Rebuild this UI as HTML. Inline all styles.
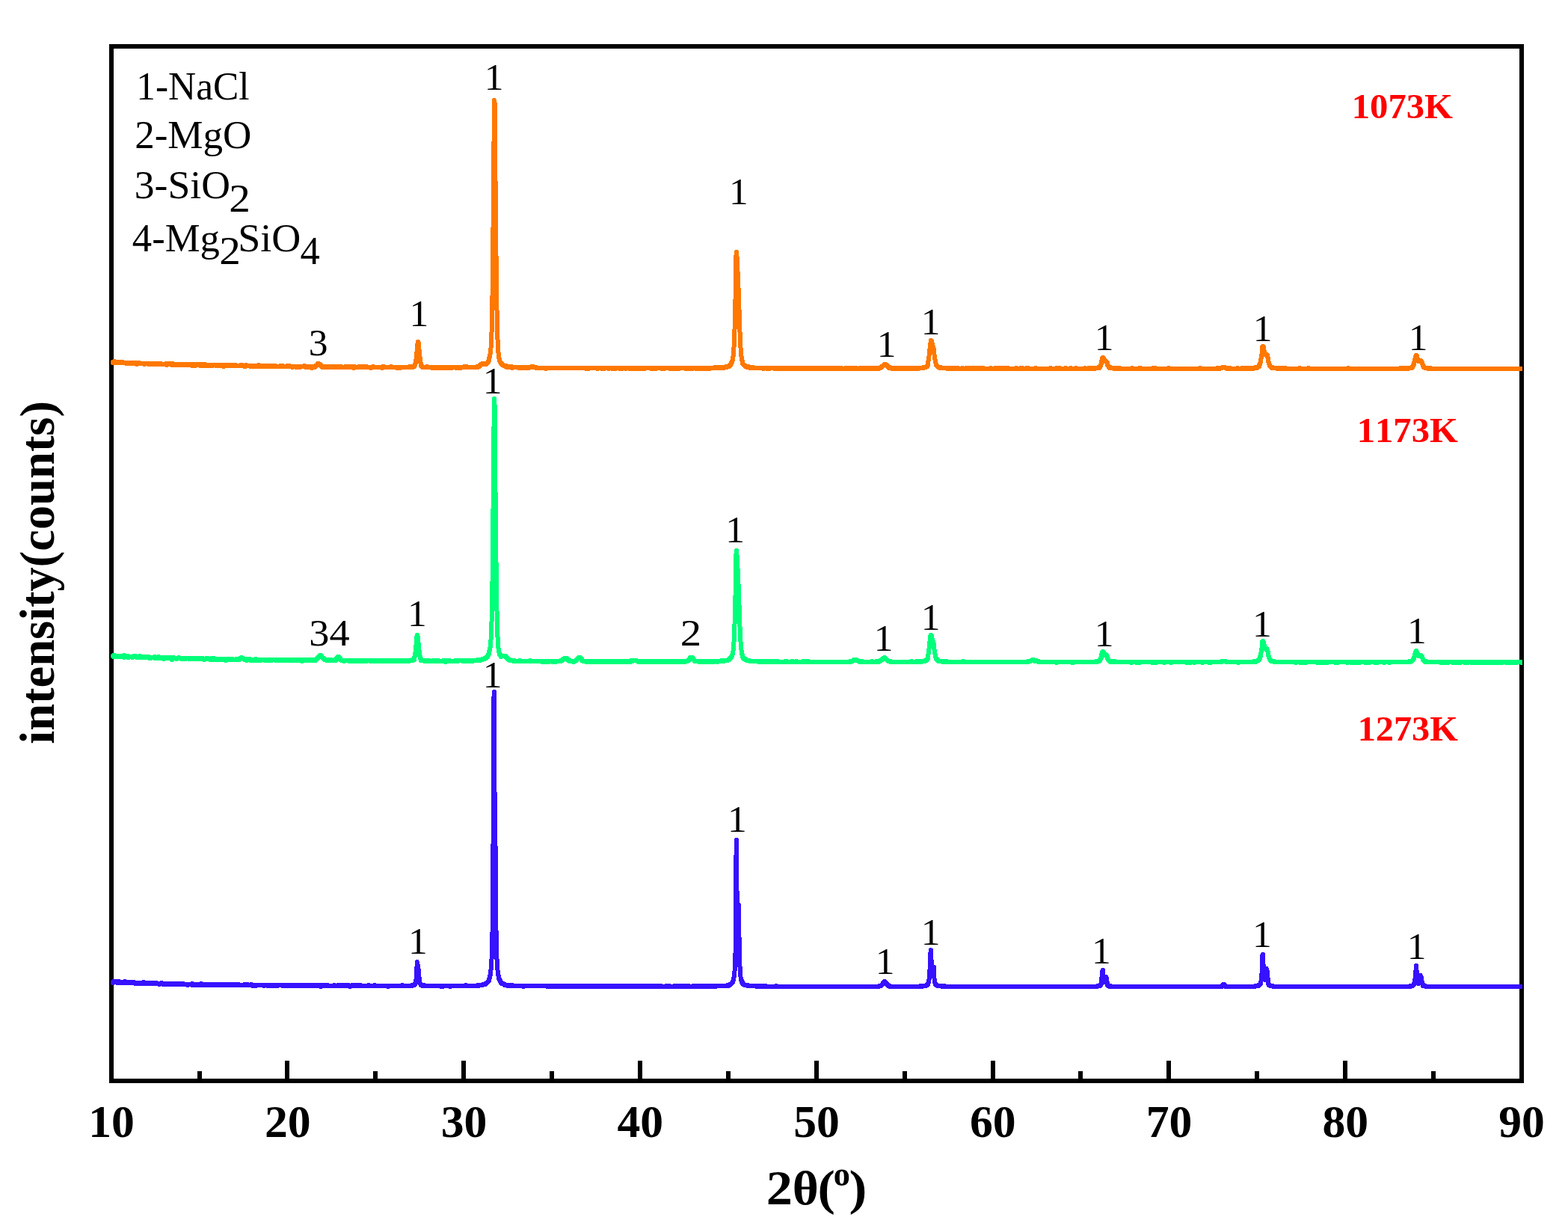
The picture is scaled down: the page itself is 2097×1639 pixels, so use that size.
<!DOCTYPE html>
<html lang="en"><head><meta charset="utf-8"><title>XRD patterns at 1073K, 1173K and 1273K</title>
<style>html,body{margin:0;padding:0;background:#fff}svg{display:block}text{font-family:"Liberation Serif",serif;font-kerning:none}</style></head><body>
<svg xmlns="http://www.w3.org/2000/svg" width="2097" height="1639" viewBox="0 0 2097 1639">
<defs><clipPath id="plot"><rect x="148" y="62" width="1888" height="1383"/></clipPath></defs>
<rect x="0" y="0" width="2097" height="1639" fill="#fff"/>
<g shape-rendering="crispEdges">
<rect x="149" y="62" width="1886" height="1383" fill="none" stroke="#000" stroke-width="6"/>
<rect x="381" y="1418" width="6" height="27" fill="#000"/><rect x="617" y="1418" width="6" height="27" fill="#000"/><rect x="853" y="1418" width="6" height="27" fill="#000"/><rect x="1089" y="1418" width="6" height="27" fill="#000"/><rect x="1325" y="1418" width="6" height="27" fill="#000"/><rect x="1560" y="1418" width="6" height="27" fill="#000"/><rect x="1796" y="1418" width="6" height="27" fill="#000"/><rect x="264" y="1432" width="6" height="13" fill="#000"/><rect x="499" y="1432" width="6" height="13" fill="#000"/><rect x="735" y="1432" width="6" height="13" fill="#000"/><rect x="971" y="1432" width="6" height="13" fill="#000"/><rect x="1207" y="1432" width="6" height="13" fill="#000"/><rect x="1442" y="1432" width="6" height="13" fill="#000"/><rect x="1678" y="1432" width="6" height="13" fill="#000"/><rect x="1914" y="1432" width="6" height="13" fill="#000"/>
<g clip-path="url(#plot)">
<path fill="none" stroke="#ff7800" stroke-width="6" stroke-linejoin="round" stroke-linecap="round" d="M151 485v-1h1l1 1v-2l1 2v-1l1 1h1v-1l1 1l1 -1v1l1 -1v1h1v-1l1 1h2l1 -1v1h4l1 1l1 -1h1v1l1 -1h1v1l1 -1v1v-1h2l1 1h2v-1l1 1l1 -1v1h1l1 1v-2h1l1 1h1v-1l1 1h6v1l1 -1h4l1 1v-1h1l1 1v-1h2l1 1v-1h2l1 1v-1h1v1h1v-1l1 1h1v-1l1 1v-1h1l1 1l1 -1v1v-1l1 1h6v-1l1 1v1v-1h2l1 -1v1l1 -1v1h3v1l1 -2v1h1v1v-1h1l1 1v-1h3v1l1 -1h2v1l1 -1v1h1l1 -1v1h2v-1l1 1v-1l1 1v-1h2v1l1 -1l1 1v-1h1v1h1v-1l1 1h2l1 -1v2v-2l1 1v-1l1 1h1l1 1v-1l1 -1l1 1v-1l1 1h1v-1l1 1h1l1 1v-2l1 1l1 -1v2l1 -1l1 1v-1h1l1 -1v1h1l1 1v-1h2l1 1v-1l1 1v-1h1v1l1 -1v1l1 -1h1v1l1 -1h3l1 1v-1h1v1h1v-1l1 1l1 -1h1l1 1l1 -1v1l1 -1v1h1v-1l1 2v-1h1l1 -1l1 1v-1l1 1v-1l1 1l1 -1v1h2v-1l1 1h1v-1h2v1h4v-1l1 1h5l1 -1v1h1l1 -1v1h3v1l1 -1v1l1 -1v-1l1 1h5v1l1 -1h1v1l1 -1v1l1 -1v1v-1h1l1 1v-1h2l1 1v-1l1 1l1 -1v-1l1 1l1 1v-1h1v1l1 -1l1 1v-1h1v1l1 -1l1 1h1v-1l1 1v-1v1h2l1 -1l1 1v-1l1 1v-1l1 1v-1l1 1v-1l1 1v-1l1 1v-1h1v1l1 -1l1 1v-1l1 1h6v-1h1v1h1l1 -1v1h5l1 -1v1h1v-1l1 1l1 -1v1h4v1l1 -1h4v1l1 -1v1l1 -1l1 1v-1h1v1h1v-1h6v-1l1 1l1 1l1 -1h1v1l1 -1l1 1v-1l1 1v-1h1l1 1v-1h1v2l1 -2h3v1l1 -1v-1h1l1 -1l1 -1v-1h1v1h1v1l1 -1v1h1v1h1v1h1v1l1 -1v1l1 -1v1l1 -1v1l1 -1h1l1 1v-1h1v1h1l1 -1h1v1l1 -1v1l1 -1v1l1 -1v1h3v-1h1v1h1v-1l1 1l1 -1v1l1 -1l1 1l1 -1v1l1 -1v1v-1h1l1 1h4l1 -1v1l1 -1v1v-1l1 1h1l1 -1v1l1 -1v1h1l1 -1v1h3v-1l1 2v-1l1 -1v1h6v-1v1h3l1 -1v1h1v-1l1 1v-1l1 1h3v-1l1 1h5v1v-1h2l1 -1v1h11l1 1v-1l1 -1v1h1v-1v1h10v-1l1 1h7v1l1 -1v1l1 -1h1l1 1v-1h13v-1l1 1l1 -1l1 1h1v-1h2v-1l1 -1v-1l1 -2v-3l1 -3v-5l1 -7v-6l1 -4l1 2v5l1 6v5l1 4v5l1 2v3l1 1h1v1h6v-1l1 1h6v1l1 -1v1v-1l1 1l1 -1l1 1l1 -1h1l1 1v-1l1 1l1 -1h1v1l1 -1v1h1v-1h2v1h1l1 -1v1l1 -1v1h1v-1h1v1h1v-1h1l1 1l1 -1l1 1h1l1 -1v1v-1h6v1l1 -1h1l1 1v-1h3v1l1 -1h3l1 -1h2v1h1v-1l1 1h12l1 -1v1l1 -1v1l1 -1h1v-1h1l1 -1v-1h2v-1h2l1 1h2v-1h1l1 -1l1 -1v-1l1 -1v-3l1 -2v-2l1 -3v-4l1 -6v-10l1 -16v-23l1 -35v-46l1 -56v-60l1 -54v-28l1 6v75l1 52v51l1 45v37l1 28v19l1 14v8l1 5v4l1 2v2l1 2l1 1v1h1v1l1 1v-1l1 1l1 1h2v1h1v-1l1 1v1l1 -1v1l1 -1v1h3l1 -1v1l1 1v-1h9v1h1v-1v1l1 -1v1h1l1 -1h1v1h1v-1h2v1h1v-1l1 1v-1l1 1v-1h1l1 1v-1h4v-1h1v1l1 -1l1 1h3v1h13v1l1 -1h53v1l1 -1h2v1l1 -1h10l1 1v-1h5l1 1v-1h1l1 1v-1h1v1l1 -1h5v1l1 -1h4v1l1 -1v1l1 -1h2v1l1 -1h4l1 1v-1l1 1v-1h2v1l1 -1h3l1 1l1 -1h3l1 1l1 -1v1l1 -1h1v1l1 -1l1 1v-1l1 1v-1h4v1l1 -1l1 1v-1h1v1l1 -1h1v1l1 -1v1l1 -1l1 1v-1h2v1l1 -1h7l1 1v-1h1v1l1 -1h3v1h1v-1h8v1l1 -1l1 1v-1h1v1l1 -1h6l1 1v-1h1v1l1 -1l1 1v-1l1 1v-1h2v1v-1h2v1l1 -1l1 1v-1h2v1l1 -1h8v1l1 -1v1l1 -1h1l1 1v-1h3l1 1v-1h1v1l1 -1h4v1l1 -1l1 1v-1h1l1 1v-1h1l1 1l1 -1h2v1l1 -1v1l1 -1l1 1v-1l1 1l1 -1h1l1 1v-1h1l1 1v-1h7v-1l1 1h1l1 -1v1h2v-1l1 1h1v-1l1 1l1 -1v1h1v-1l1 1h1v-1h2l1 -1v1h1v-1h3l1 -1v-1h1v-1l1 -1v-1l1 -1v-1l1 -2v-3l1 -3v-6l1 -9v-12l1 -16v-20l1 -24v-42l1 -9v1l1 9v11l1 10v11l1 12v15l1 16v15l1 13v11l1 8v6l1 3v3l1 2v3l1 1l1 1l1 1h1v1h2v1l1 -1v1h1v-1v1h1l1 1l1 -1v1l1 -1h2v1h13l1 1v-1h5v1l1 -1l1 1v-1l1 1l1 -1h5l1 1v-1h1v1l1 -1v1l1 -1l1 1l1 -1h2v1l1 -1h1l1 1v-1l1 1v-1h2v1h1v-1h1v1l1 -1h1l1 1h1v-1h1l1 1l1 -1v1l1 -1v1v-1h1l1 1h1v-1h1v1l1 -1h1v1h1v-1h1v1l1 -1v1h1l1 -1v1l1 -1l1 1v-1h1v1l1 -1v1l1 -1h2l1 1v-1h1v1l1 -1h1v1h1l1 -1l1 1h2v-1h1l1 1v-1h1l1 1v-1h1l1 1v-1l1 1h1l1 -1h1v1l1 -1v1h1v-1l1 1h2l1 -1h2l1 1v-1l1 1l1 -1h1v1h1v-1l1 1l1 -1v1h1l1 -1v1l1 -1v1l1 -1v1h1l1 -1v1h1v-1h1l1 1h2v-1l1 1h1l1 -1v1h5l1 -1v1l1 -1v1h1v-1v1l1 -1v1h1l1 -1v1h1l1 -1v1h3l1 -1v1l1 -1v1h1v-1l1 1v-1l1 1h3l1 -1v1l1 -1h1v1l1 -1v1h1v-1l1 1l1 -1v1h3l1 -1l1 1l1 -1l1 1h1l1 -1h1v1h1l1 -1l1 1v-1l1 1v-1l1 1v-1h1v1l1 -1h1l1 1v-1h2l1 -1h1v-1h1l1 -1l1 -1l1 -1h1l1 1h1v1h1v1h1v1h1v1l1 -1v1h2l1 1l1 -1h1l1 1h1v-1h1v1h1v-1h1v1h1v-1l1 1v-1h1v1l1 -1v1h2v-1l1 1h1l1 -1h1v1h3l1 -1v1l1 -1l1 1l1 -1v1l1 -1v1h1l1 -1h1v1l1 -1h2v1v-1h2l1 1v-1l1 1v-1h7v-1h3l1 -1h1v-1l1 -1v-4l1 -3v-3l1 -4v-5l1 -5v-4l1 -4v-1l1 1v2l1 2v2l1 2v1l1 2v5l1 4v3l1 3v2l1 3v1l1 1l1 1l1 1h1l1 1v-1v1h1v-1l1 1h8v1h1l1 -1v1l1 -1h1l1 1h1l1 -1v1l1 -1l1 1h1v-1h1v1h1v-1h1v1h1v-1l1 1h4l1 -1v1h4l1 -1v1h1l1 -1v1h1v-1l1 1h1l1 -1v1h4v-1l1 1l1 -1v1h3v-1v1h2v-1l1 1l1 -1l1 1v-1l1 1h1l1 -1v1h10v-1l1 1h5v-1l1 1l1 -1v1h1l1 -1v1l1 -1v1h3v-1l1 1h3v-1h1v1l1 -1v1l1 -1v1h2v-1v1h10l1 -1v1h5l1 -1v1h2v-1l1 1h5v-1l1 1l1 -1v1h10v-1l1 1h19v-1l1 1h7v-1l1 1h2l1 -1v1h8v-1l1 1h5l1 -1v1h7v-1v1h11l1 -1l1 1h3l1 -1v1h1v-1l1 1l1 -1h1l1 1l1 -1l1 1l1 -1v1v-1h4l1 -1v1h1v-1h1v-1l1 -1v-1l1 -2v-3l1 -2v-2l1 -1l1 1v1l1 1l1 1v1h1l1 1l1 1v3l1 1l1 1v1h1v1l1 -1v1h4l1 1h1v-1h1v1h2l1 -1v1h2v-1v1h16l1 -1v1h9l1 -1v1l1 -1v1h17v-1l1 1h1l1 -1v1h17l1 -1v1h42v-1v1h22l1 -1v1h3v-1h3l1 -1h3l1 1h1l1 1v-1l1 1h1v-1l1 1h1v-1l1 1h9v-1l1 1h4l1 -1v1l1 -1v1h2l1 -1v1h1l1 -1l1 1l1 -1h1v1h2v-1h1l1 1v-1h1v1h1v-1h3v-1l1 1v-1l1 1v-1h1l1 -1h1v-2l1 -1v-1l1 -2v-3l1 -3v-3l1 -4v-7l1 -1l1 1v3l1 3v2l1 1v1h2l1 1v2l1 2v4l1 2v1l1 2v1l1 1l1 1h1v1l1 -1l1 1h4l1 1v-1h2v1l1 -1v1h1v-1v1h1v-1l1 1h2v-1l1 1v-1l1 1l1 -1v1h19v-1l1 1h10l1 -1v1h52l1 -1v1h70v-1l1 1h1l1 -1l1 1h1l1 -1v1h2v-1l1 1v-1l1 1v-1h5v-1h1v-1l1 -1v-1l1 -1v-2l1 -2v-2l1 -2v-2l1 -1v-1l1 1v2l1 2v1l1 1v1h2v-1h1l1 1v1l1 1v1l1 2v1l1 1v1h1l1 1h4v1h1v-1v1h1l1 -1l1 1h121"/>
<path fill="none" stroke="#00ff7a" stroke-width="6" stroke-linejoin="round" stroke-linecap="round" d="M151 877l1 -1v2l1 -2v1h3v1l1 -1v1l1 -1l1 1v-1h2v1l1 -1h2l1 1v-1l1 2v-3v2h2v-1l1 1h1l1 -1v2h1v-1h4l1 1v-1h1l1 -1v1h2v-1l1 1l1 1l1 -1v1l1 -1h1v1l1 -2v1l1 1v-1h1l1 1v-1h1v1h1v-1l1 1h2v-1l1 1h1l1 -1v1h1v-1v1h1v1h1v-1h5l1 1v-2v1h2v1h1l1 -1v1l1 -2v1h1l1 1v-1l1 1v-1v1h1v-1h2l1 2v-1h1v-1l1 1h1l1 -1v1h2l1 -1l1 1l1 -1v1h2v2l1 -2v1l1 -2v1h3l1 1v-1h2l1 -1v1h3l1 1v-1h1v1l1 -1h1l1 1l1 -1v1l1 -1h4v1h1v-1h1v1h1v-1l1 1v-1v1h3l1 -1h1l1 1v-1l1 1v-1h1v1h1l1 -1v1h3l1 -1v1h2v1v-1h2l1 -1v1h1l1 -1l1 1h2v1l1 -1l1 1v-2h1v1h2v-1l1 1v1h1v-1l1 1v-1h3v1l1 -1h3v1l1 -1v1l1 -1v1l1 -1h1l1 1v-1h1v2l1 -2l1 1h1l1 -1v1l1 -1v1l1 -1v1l1 -1v1h2v-1l1 1h3l1 -1v1h2v-1h2v1l1 -1v-1h2v-1v1h2l1 1h1v1h1l1 -1v1l1 1v-1h1l1 -1v1h1l1 -1v1l1 1v-1h1v1h1v-1h2l1 1v-1h1l1 -1v1h2v1l1 -1h1v1l1 -1h1l1 1v-1h4l1 1v-1h3v1l1 -1l1 1v-1h4v1l1 -1h4l1 1v-1l1 1v-1h1l1 1v-1l1 1v-1h1l1 1v-1h1v1l1 -1v1l1 -1l1 1v-1l1 1v-1h1v1l1 -1h1v1h4v-1l1 1l1 -1v1v-1l1 1v-1h1v1l1 -1v1h1v-1h3v1l1 -1v1h1v-1l1 1v-1l1 1v-1l1 1v-1l1 1h1l1 1v-1h1v-1l1 1v-1h1v1h2l1 -1v1h1v-1l1 1h1l1 -1v1v-1l1 1l1 -1v1h2v-1h1v1h1v-1l1 1v-1l1 1v-1l1 -1h1v-1l1 -1l1 -1v1l1 -2h1v-1h1l1 1v1l1 1l1 1h1v1l1 1h2l1 1h1l1 -1v1h4v-1l1 1h5v-2h1l1 -1v-1l1 1v-2l1 1v-1l1 1v1h1v2h1l1 1h2l1 1v-1h6l1 1h1v-1h3l1 1v-1h1l1 1v-1h1l1 1v-1h2v1l1 -1l1 1v-1v1h1v-1h2l1 1l1 -1h3v1h1v-1h1v1l1 -1h4v1l1 -1v1v-1l1 1v-1h2l1 1v-1l1 1v-1l1 1l1 -1h1v1l1 -1v1v-1h2v1h1l1 -1l1 1l1 -1v1h1v-1h1v1l1 -1h1v1h3l1 -1l1 1v-1h1v1l1 -1h1v1h1v-1l1 1v-1l1 1h1l1 -1h1l1 1h1v-1l1 1v-1l1 1h2v-1h1v1l1 -1h1v1v-1h1v1l1 -1l1 1h1v-1l1 1v-1l1 1v-1h1v1l1 -1v1l1 -1v1l1 -1h3v-1l1 1v-1h2v-3l1 -2v-3l1 -3v-5l1 -7v-7l1 -3l1 3v5l1 5v5l1 5v4l1 2v2l1 2v1l1 -1v1h3l1 1l1 -1v1h1v-1l1 1v-1l1 1h1l1 -1v1h5v-1v1h2v-1h1l1 1v-1l1 1h1v-1h1v1h6l1 -1v1h3v1v-2l1 1v-1l1 1v-1l1 1v-1l1 1h1v-1l1 1h7v-1l1 1h2v-1h7v1h4v-1l1 1v-1l1 1h1l1 -1h1v1h1v-1l1 1v-1l1 1h1v-1h7v-1l1 1h2v-1h3v-1h3v-1h2v-1h1v-1h1v-1l1 -1v-1l1 -1v-3l1 -2v-2l1 -3v-5l1 -8v-11l1 -17v-27l1 -37v-50l1 -57v-59l1 -45v-15l1 15v84l1 51v47l1 42v32l1 25v17l1 11v7l1 5v2l1 2v2l1 1h1v2l1 -1h5v1h1l1 1v1l1 1h1v1h1l1 1v-1l1 1h4v1v-1h1v1h7v-1v1h14v-1l1 1h14l1 1v-1h3v1v-1h1v1h1v-1h1l1 1v-1h2v1l1 -1h3l1 1v-1h4v1l1 -1h6v-1h2v-1h1v-1h2v-1h3v1l1 1h1v1l1 -1v1h1v1h5v1l1 -1h1l1 -1h1v-1l1 -1l1 -1l1 -1h2v1l1 1h1v2h1l1 1h3l1 1v-1l1 1v-1h3v1h1l1 -1h2l1 1l1 -1l1 1v-1l1 1v-1l1 1v-1h2l1 1l1 -1l1 1v-1l1 1v-1h2v1l1 -1v1l1 -1l1 1h1v-1h1v1h1v-1h2v1l1 -1v1l1 -1v1h1l1 -1h1l1 1v-1l1 1v-1h2v1h1v-1l1 1h1l1 -1l1 1v-1h1v1h1v-1h2l1 1l1 -1l1 1v-1l1 1v-1l1 1v-1v1l1 -1l1 1h1v-1h3v1h1l1 -1v-1v1h2v-1h5l1 1h2v1l1 -1h3v1l1 -1v1h1v-1h1v1l1 -1h1v1h1l1 -1l1 1h1v-1l1 1v-1h1l1 1v-1h2v1l1 -1v1l1 -1l1 1l1 -1v1h1v-1l1 1l1 -1l1 1v-1l1 1l1 -1v1h1v-1l1 1v-1l1 1v-1h2v1l1 -1v1h1v-1l1 1l1 -1v1l1 -1v1l1 -1v1h2v-1l1 1v-1h1v1l1 -1l1 1l1 -1v1l1 -1v1h1v-1l1 1v-1h1v1h1l1 -1v1h1l1 -1v1h1v-1h1v1l1 -1l1 1h1l1 -1v1l1 -1l1 1v-1h3l1 -1h1v-1h1v-1l1 -1v-1h3l1 1v1l1 1l1 1v1h5l1 1v-1v1l1 -1h2v1h1l1 -1l1 1v-1l1 1h1v-1l1 1h2l1 -1l1 1l1 -1h2v1l1 -1h1v1l1 -1v1l1 -1h3l1 1v-1h5l1 -1l1 1v-1l1 1h1v-1h5l1 -1h1v-1h1v-1h1l1 -1v-1l1 -1v-1l1 -2v-2l1 -4v-6l1 -8v-12l1 -15v-20l1 -22v-40l1 -9v2l1 8v10l1 9v11l1 11v14l1 16v15l1 12v10l1 8v5l1 4v3l1 2v2l1 1v1h1v1h2v1h1l1 1h3l1 1h11l1 1v-1h3v1h1l1 -1v1l1 -1v1h1v-1l1 1h1v-1l1 1h1v-1v1h1l1 -1l1 1h1l1 -1v1h1v-1l1 1h1l1 -1v1h2l1 -1v1l1 -1v1l1 -1v1h9l1 -1v1h1v-1v1h1v-1l1 1h6v-1v1l1 -1l1 1h3l1 -1v1h8l1 -1v1l1 -1v1h4v-1l1 1l1 -1v1h55l1 -1v1h1v-1h2l1 -1h1v-1h3l1 1h1l1 1h2v1h2v-1h1v1h13v-1v1h6v-1l1 1l1 -1l1 1v-1h2v-1h1l1 -1h1v-1h1v-1h1l1 -1l1 1v1h1l1 1l1 1l1 1h3v1h27l1 -1l1 1h5l1 -1v1l1 -1v1h1l1 -1l1 1v-1h2v1l1 -1h4v-1h2v-1h1v-1l1 -1v-4l1 -3v-4l1 -4v-5l1 -5v-4l1 -2l1 1v3l1 2v2l1 1v1l1 2v6l1 3v3l1 3v2l1 2v1l1 1h1v1h1v1h5l1 1v-1h1v1h2v-1l1 1l1 -1v1h22v-1l1 1h86v-1h3l1 -1h1l1 -1v1h1v-1v1h2v1l1 -1h1v1h3v1h23l1 1v-1h20l1 1v-1h1v1l1 -1h30v-1h1v1l1 -1h1l1 -1v1l1 -1v-1l1 -1v-1l1 -1v-4l1 -1v-2l1 -1l1 1v1l1 1l1 1v1l1 -1v1h1v1l1 1v2l1 1v1l1 1l1 1h1v1h1v-1l1 1h2l1 -1v1h1v-1l1 1h20l1 1v-1h6l1 1v-1h2v1l1 -1l1 1v-1h16l1 1v-1h3l1 1v-1l1 1v-1h11v1l1 -1h8v1l1 -1h20v1h1v-1h3l1 1v-1h5v1v-1h10l1 1v-1h9v1l1 -1l1 1v-1h15v-1h5l1 1h16v1l1 -1h19l1 -1v1h2v-1h2l1 -1h1l1 -1v-1l1 -1v-2l1 -1v-3l1 -3v-3l1 -3v-7l1 -1l1 2v2l1 2v2l1 2l1 1v-1h1l1 2v1l1 2v4l1 2v1l1 2l1 1v1h1v1h3l1 1v-1l1 1h27l1 1v-1h5l1 1v-1h2v1h1v-1h3l1 1v-1h15l1 1v-1h1l1 1v-1h4v1l1 -1h2v1l1 -1h2l1 1v-1h11v1l1 -1h1l1 1v-1h13v1l1 -1h3l1 1v-1l1 1v-1h4v1v-1h2v1l1 -1v1l1 -1h1l1 1v-1h8v1l1 -1h1v1l1 -1h1l1 1v-1h8v1l1 -1h1l1 1v-1h9v1l1 -1h6v1l1 -1h25l1 -1v1h1v-1h2l1 -1l1 -1v-1l1 -1v-1l1 -2v-2l1 -2v-1l1 -1v-1l1 2v1l1 1v1l1 1v1h2v-1h1l1 1l1 1v1l1 2v1l1 1l1 1h1v1h1v-1l1 1h18l1 1v-1l1 1v-1h4v1l1 -1h2v1l1 -1v1v-1h7v1h1v-1v1l1 -1v1l1 -1h2v1l1 -1h1v1l1 -1l1 1v-1l1 1l1 -1h5v1h1v-1h2l1 1v-1h5v1h1v-1h1v1l1 -1l1 1v-1h4v1h1v-1h2v1l1 -1h1v1l1 -1l1 1v-1h3v1h1v-1h3v1l1 -1h1v1l1 -1v1l1 -1v1l1 -1l1 1v-1h1l1 1v-1l1 1v-1h2v1l1 -1v1h1v-1h2v1h1v-1l1 1v-1h1l1 1v-1h4l1 1v-1l1 1v-1l1 1v-1l1 1v-1h2l1 1l1 -1l1 1l1 -1l1 1l1 -1h1v1h1v-1v1h1v-1h6l1 1v-1"/>
<path fill="none" stroke="#3612ff" stroke-width="6" stroke-linejoin="round" stroke-linecap="round" d="M151 1314v-1h1v-1l1 1h2l1 -1v1h1v1v-1h1l1 -1v2l1 -1h1v1l1 -1h1v1l1 -1h1v1h1v-1h1v-1l1 1l1 1v-1h1v1l1 -1h2v1l1 -1v1h2l1 -1v1l1 -1v1l1 -1v1h1l1 1v-1h2v1l1 -1h1v1l1 -1h2v1l1 -1h1l1 1v-1h1v-1l1 1h1l1 1v-1h1v1l1 -1l1 1l1 -1v1h1l1 -1l1 1l1 -1v1l1 -1v1l1 -1v1h1l1 -1v1v-1l1 1v-1h1v1h3l1 1v-1h3v-1l1 1h1v1l1 -1h3v1l1 -1h2l1 1v-1h2v1l1 -1l1 1v-1h1v1l1 -1h2l1 1h1l1 -1h2v1h1v-1h1v1h1l1 -1v1h1l1 -1v1h6v1l1 -1h5v1v-2l1 1h3v1l1 -1h2l1 1v-1h1v1l1 -1v1l1 -1l1 1v-2l1 1h2l1 1v-1l1 1v-1l1 1v-1l1 1v-1h2v1l1 -1v1l1 -1v1l1 -1v1v-1h2l1 1v-1l1 1l1 -1h1v1h1v-1h2v1l1 -1v1h1v-1h1l1 1v-1h1l1 1v-1l1 1h1v-1v1l1 -1l1 1v-1l1 1v-1l1 1h1l1 -1h1v1h1l1 -1v1h1v-1h1v1h1l1 -1v1l1 -1v1h1l1 -1v1v-1l1 1l1 -1v1h2l1 -1l1 1h6l1 -1v1h2l1 -1v1h1v-1v1h4l1 -1v1h1l1 1v-1h4v1l1 -1h9l1 1v-1h4l1 1l1 -1v1l1 -1h2l1 1v-1h1v1v-1h1v1l1 -1h2v1l1 -1h1l1 1l1 -1h5l1 1v-1l1 1v-1h1v1h1v-1l1 1v-1l1 1v-1h1v1l1 -1l1 1v-1l1 1v-1h1l1 1v-1l1 1v-1h2l1 1v-1l1 1l1 -1h1v1l1 -1v1l1 -1l1 1h1v-1l1 1h1v-1h1v1h2v-1h1l1 1h1l1 -1h2l1 1l1 -1h1v1l1 -1v1h1l1 -1v1l1 -1v1h1v-1h1v1h2v-1l1 1l1 -1v1h1l1 -1v1l1 -1v1h1l1 1v-1h1v-1l1 1v-1l1 1h1v-1l1 1h1l1 -1v1h2v-1l1 1h8v-1v1h4l1 -1v1h1l1 -1v1h1v-1l1 1l1 -1v1h4v-1l1 1v-1l1 1h2l1 -1v1h2v1l1 -1h1l1 -1v1h1v-1v1h3l1 -1v1h1l1 -1v1h3l1 -1v1h11v-1l1 1h7v-1l1 1h17v1l1 -1h18v-1l1 1h11l1 -1v1l1 -1h2v-1h1v-1l1 -1v-3l1 -4v-9l1 -11v-1l1 7v3l1 1v6l1 6v4l1 2l1 1v1h1l1 1h1l1 -1v1h22l1 1v-1h1l1 1v-1h9l1 1v-1h21v-1l1 1h14l1 -1v1h1v-1h5l1 -1h3v-1h1l1 -1l1 -1l1 -1l1 -1v-2l1 -2v-2l1 -2v-4l1 -5v-7l1 -10v-17l1 -28v-53l1 -100v-141l1 -13v109l1 49v-17v23l1 81v58l1 31v18l1 11v7l1 4v4l1 2v3l1 1v1l1 1v1l1 1v1h1v1h2l1 1h1v1h3l1 1v-1h3v1h1l1 -1v1l1 -1v1h15v1l1 -1h31v1l1 -1h3v1h1v-1h1v1l1 -1v1l1 -1h1l1 1v-1l1 1v-1l1 1v-1h1v1v-1l1 1l1 -1v1l1 -1h3v1l1 -1v1l1 -1h2v1h1v-1h3v1l1 -1l1 1v-1l1 1v-1h1l1 1l1 -1v1l1 -1h1v1l1 -1l1 1l1 -1h2l1 1v-1l1 1v-1h1l1 1l1 -1v1l1 -1v1v-1l1 1l1 -1h1v1l1 -1h1v1h1v-1l1 1h1v-1l1 1l1 -1l1 1l1 -1l1 1h2l1 -1l1 1h1l1 -1v1l1 -1h1l1 1l1 -1v1l1 -1h1v1l1 -1v1h1l1 -1h1v1h1v-1l1 1h1l1 -1v1h1v-1h1v1h1v-1l1 1h1l1 -1v1h1l1 -1v1h2v-1h1l1 1h1v-1l1 1h1v-1l1 1v-1l1 1h2v-1l1 1h1l1 -1v1h3v-1v1l1 -1v1l1 -1v1h1l1 -1l1 1h3v-1v1h4v-1l1 1l1 -1v1h2v-1h1l1 1h1v-1l1 1h1v-1h1l1 1l1 -1v1l1 -1v1h1l1 -1v1h3v-1l1 1v-1l1 1h2v-1l1 1l1 -1l1 1l1 -1v1h2v-1l1 1h1v-1l1 1h1v-1l1 1h1v-1h1l1 1v-1l1 1h5l1 -1v1h4v-1l1 1h5l1 -1v1h3v-1l1 1l1 -1v1l1 -1v1h2v-1v1h1v-1l1 1h1v-1l1 1h3v-1l1 1h1v-1l1 1l1 -1v1h6v-1l1 1h1l1 -1l1 1h2l1 -1v1h1v-1h1v1h4v-1l1 1l1 -1h1v1h1l1 -1l1 1h1v-1h1v1l1 -1v1l1 -1v1l1 -1v1h1l1 -1v1l1 -1h1v1l1 -1l1 1v-1h15l1 -1v1h1v-1h2v-1h1l1 -1l1 -1l1 -1v-1l1 -2v-2l1 -3v-4l1 -6v-11l1 -20v-101l1 -40v40l1 54v26l1 -1v-20l1 -12v27l1 31v19l1 11v6l1 4v2l1 1v2h1v2h1v1h1l1 1h4v1h11l1 1v-1h2v1h1l1 -1l1 1v-1h1v1h1v-1l1 1h2v-1l1 1h1v-1l1 1h13v-1l1 1h136l1 -1h2l1 -1l1 -1l1 -1v-1h1v-1h1v-1l1 1l1 1l1 1v1h1v1h1v1h1l1 1v-1l1 1h40v-1h1v1h1v-1h5l1 -1h1l1 -1v-1l1 -2v-2l1 -3v-7l1 -10v-14l1 -7v7l1 12v9l1 4l1 -4v-5h1v13l1 4v3l1 2v1h1v1h1l1 1h5l1 1h2l1 -1v1h204l1 -1h3v-1h1v-1l1 -1v-6l1 -5v-5l1 -2v4l1 5v4l1 3h1v-3l1 -2v-2l1 2v3l1 3v3h1v1h2v1l1 -1v1h149v-1h1v-1h1v-1h1l1 1v1h1v1h39l1 -1h4v-1h1l1 -1l1 -1v-2l1 -3v-5l1 -7v-20l1 -2v8l1 10v8l1 5v2l1 1v-2l1 -3v-5l1 -5l1 4v6l1 5v5l1 1v1h1l1 1h3l1 1h183v-1h3l1 -1l1 -1v-1l1 -1v-3l1 -5v-6l1 -6v-3v3l1 6v6l1 4v3l1 1v1l1 -1v-1l1 -2v-3l1 -3v-1l1 3v3l1 3v2l1 1v2h3l1 1h128"/>
</g></g>
<g font-size="60.5" font-weight="bold" text-anchor="middle">
<text transform="translate(149 1520) scale(1.02 1)">10</text>
<text transform="translate(384.75 1520) scale(1.02 1)">20</text>
<text transform="translate(620.5 1520) scale(1.02 1)">30</text>
<text transform="translate(856.25 1520) scale(1.02 1)">40</text>
<text transform="translate(1092 1520) scale(1.02 1)">50</text>
<text transform="translate(1327.75 1520) scale(1.02 1)">60</text>
<text transform="translate(1563.5 1520) scale(1.02 1)">70</text>
<text transform="translate(1799.25 1520) scale(1.02 1)">80</text>
<text transform="translate(2035 1520) scale(1.02 1)">90</text>
</g>
<g font-size="51.5" text-anchor="middle">
<text x="425.5" y="475">3</text>
<text x="560.4" y="436.1">1</text>
<text x="660.5" y="120">1</text>
<text x="987.9" y="273.2">1</text>
<text x="1185.5" y="477">1</text>
<text x="1244.7" y="447">1</text>
<text x="1476.7" y="468.2">1</text>
<text x="1688.7" y="455.8">1</text>
<text x="1896.7" y="467.8">1</text>
<text x="557.9" y="837.2">1</text>
<text x="658.5" y="525.9">1</text>
<text x="983" y="725.2">1</text>
<text x="1181.6" y="870.2">1</text>
<text x="1244.6" y="842">1</text>
<text x="1476.7" y="864.2">1</text>
<text x="1687.9" y="851">1</text>
<text x="1894.8" y="860">1</text>
<text x="558.9" y="1275.3">1</text>
<text x="658.5" y="919">1</text>
<text x="985.9" y="1112">1</text>
<text x="1183.7" y="1302">1</text>
<text x="1244.6" y="1263.3">1</text>
<text x="1472.8" y="1288.2">1</text>
<text x="1687.9" y="1266.4">1</text>
<text x="1894.5" y="1282.1">1</text>
</g>
<text font-size="52"><tspan x="182.26" y="133.2" textLength="151.22" lengthAdjust="spacingAndGlyphs">1-NaCl</tspan></text>
<text font-size="52"><tspan x="180.16" y="198" textLength="156.19" lengthAdjust="spacingAndGlyphs">2-MgO</tspan></text>
<text font-size="52"><tspan x="179.81" y="265.1" textLength="128.11" lengthAdjust="spacingAndGlyphs">3-SiO</tspan><tspan x="306.15" y="282.5" textLength="28.6" lengthAdjust="spacingAndGlyphs">2</tspan></text>
<text font-size="52"><tspan x="176.89" y="335.9" textLength="116.99" lengthAdjust="spacingAndGlyphs">4-Mg</tspan><tspan x="293.25" y="352.6" textLength="28.6" lengthAdjust="spacingAndGlyphs">2</tspan><tspan x="318.25" y="335.9" textLength="84.05" lengthAdjust="spacingAndGlyphs">SiO</tspan><tspan x="401.49" y="352.6" textLength="26.33" lengthAdjust="spacingAndGlyphs">4</tspan></text>
<text font-weight="bold" fill="#ff0000" font-size="46"><tspan x="1807.72" y="157.9" textLength="135.21" lengthAdjust="spacingAndGlyphs">1073K</tspan></text>
<text font-weight="bold" fill="#ff0000" font-size="46"><tspan x="1814.67" y="590.75" textLength="135.16" lengthAdjust="spacingAndGlyphs">1173K</tspan></text>
<text font-weight="bold" fill="#ff0000" font-size="46"><tspan x="1815.7" y="990" textLength="134.12" lengthAdjust="spacingAndGlyphs">1273K</tspan></text>
<text font-weight="bold" font-size="65.5"><tspan x="1024.78" y="1609.8" textLength="35.18" lengthAdjust="spacingAndGlyphs">2</tspan><tspan x="1059.78" y="1609.8" font-size="62.6" textLength="35.11" lengthAdjust="spacingAndGlyphs">θ</tspan><tspan x="1093.59" y="1609.8" textLength="23.35" lengthAdjust="spacingAndGlyphs">(</tspan><tspan x="1114.77" y="1584.8" font-size="46" textLength="22.15" lengthAdjust="spacingAndGlyphs">o</tspan><tspan x="1135.61" y="1609.8" textLength="23.87" lengthAdjust="spacingAndGlyphs">)</tspan></text>
<text font-size="51.5"><tspan x="413.24" y="863.2" textLength="54.29" lengthAdjust="spacingAndGlyphs">34</tspan></text>
<text font-size="51.5"><tspan x="909.8" y="863.4" textLength="28.33" lengthAdjust="spacingAndGlyphs">2</tspan></text>
<text transform="translate(71.9,765.4) rotate(-90)" font-size="64.5" font-weight="bold" text-anchor="middle">intensity(counts)</text>
</svg></body></html>
